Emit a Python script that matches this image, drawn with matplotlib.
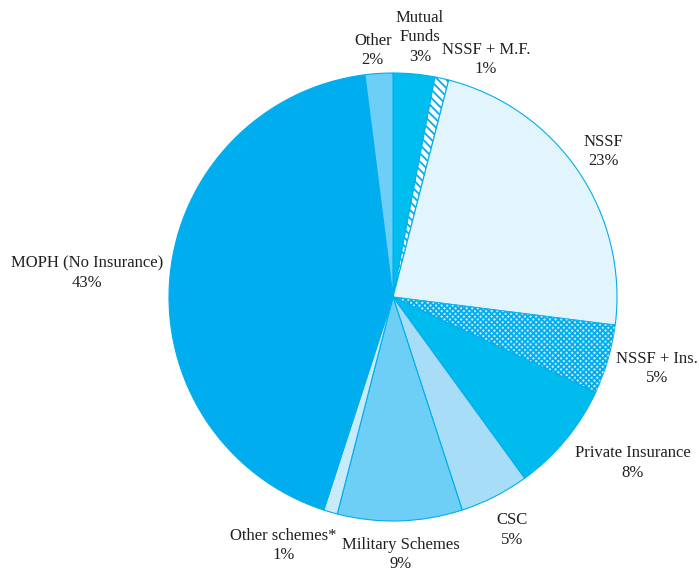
import numpy as np
import matplotlib.pyplot as plt

plt.rcParams['font.family'] = ['Liberation Serif', 'DejaVu Serif']
plt.rcParams['hatch.linewidth'] = 1.3

labels = ['Mutual\nFunds', 'NSSF + M.F.', 'NSSF', 'NSSF + Ins.', 'Private Insurance',
          'CSC', 'Military Schemes', 'Other schemes*', 'MOPH (No Insurance)', 'Other']
shares = [3, 1, 23, 5, 8, 5, 9, 1, 43, 2]
colors = ['#00BDEF', '#FFFFFF', '#E2F4FC', '#C7EAF9', '#00BBEE',
          '#A7DDF6', '#6DCFF6', '#C9EAF9', '#00AEEF', '#6DCFF6']
hatches = [None, '\\\\\\\\', None, 'xxxxxx', None, None, None, None, None, None]
# label centres, in pie-radius units
label_xy = [(0.12, 1.16), (0.415, 1.06), (0.94, 0.65), (1.18, -0.32), (1.07, -0.74),
            (0.53, -1.04), (0.036, -1.15), (-0.49, -1.11), (-1.366, 0.107), (-0.09, 1.10)]

fig = plt.figure(figsize=(6.99, 5.72), dpi=100)
ax = fig.add_axes([0, 0, 1, 1])
wedges, _ = ax.pie(shares, colors=colors, startangle=90, counterclock=False,
                   wedgeprops=dict(edgecolor='#00AEEF', linewidth=0.8))
for w, h in zip(wedges, hatches):
    if h:
        w.set_hatch(h)
wedges[3].set_linewidth(0.5)

for lab, s, (x, y) in zip(labels, shares, label_xy):
    ax.text(x, y, '%s\n%d%%' % (lab, s), ha='center', va='center',
            fontsize=12, color='#231F20', linespacing=1.3)

ax.set_xlim(-393 / 224, (699 - 393) / 224)
ax.set_ylim(-(572 - 297) / 224, 297 / 224)
ax.set_aspect('auto')
ax.axis('off')
fig.savefig('out.png', dpi=100)
